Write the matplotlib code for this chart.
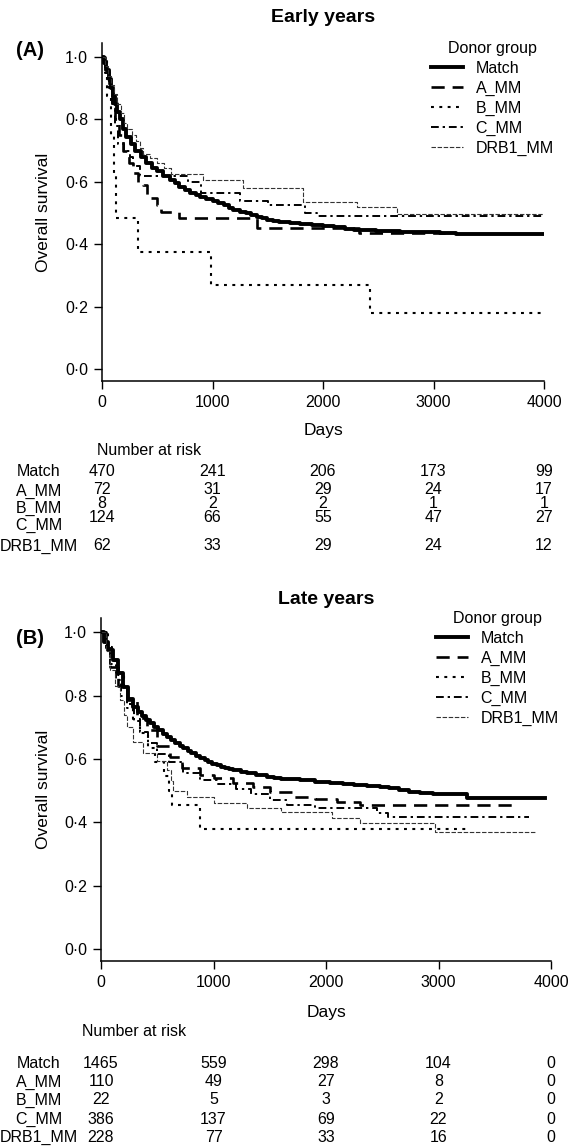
import matplotlib
matplotlib.use("Agg")
import matplotlib.pyplot as plt
from matplotlib.lines import Line2D
import matplotlib.transforms as mtransforms

plt.rcParams['font.family'] = ['Liberation Sans', 'DejaVu Sans']

W, H = 577, 1147
groups = ["Match", "A_MM", "B_MM", "C_MM", "DRB1_MM"]
risk_times = [0, 1000, 2000, 3000, 4000]

# ---------------- Early years ----------------
early_match_t = [0, 20, 40, 60, 80, 100, 120, 140, 160, 190, 220, 260, 300, 350, 400, 450, 500, 550, 615,
                 660, 700, 750, 800, 850, 887, 940, 1000, 1050, 1100, 1150, 1186, 1250, 1300, 1350, 1400,
                 1450, 1490, 1550, 1600, 1700, 1790, 1900, 2000, 2100, 2200, 2280, 2362, 2480, 2600, 2700,
                 2800, 2930, 3058, 3200, 4000]
early_match_s = [1.0, 0.98, 0.96, 0.93, 0.90, 0.875, 0.85, 0.825, 0.80, 0.77, 0.745, 0.72, 0.70, 0.68, 0.66,
                 0.645, 0.635, 0.62, 0.605, 0.595, 0.585, 0.575, 0.565, 0.558, 0.551, 0.545, 0.54, 0.533,
                 0.525, 0.517, 0.51, 0.505, 0.50, 0.494, 0.488, 0.483, 0.478, 0.475, 0.472, 0.468, 0.465,
                 0.461, 0.458, 0.454, 0.45, 0.447, 0.445, 0.443, 0.442, 0.441, 0.44, 0.438, 0.436, 0.432,
                 0.432]
early_a_t = [0, 30, 60, 90, 115, 150, 190, 240, 280, 330, 371, 407, 500, 530, 700, 1400, 2330, 3100]
early_a_s = [1.0, 0.96, 0.90, 0.85, 0.80, 0.75, 0.70, 0.66, 0.63, 0.60, 0.59, 0.548, 0.525, 0.503, 0.484,
             0.452, 0.436, 0.436]
early_b_t = [0, 45, 80, 105, 130, 327, 983, 2425, 3980]
early_b_s = [1.0, 0.875, 0.75, 0.625, 0.485, 0.375, 0.27, 0.18, 0.18]
early_c_t = [0, 30, 60, 90, 120, 145, 200, 250, 280, 344, 780, 900, 1250, 1500, 1840, 1950, 4000]
early_c_s = [1.0, 0.95, 0.90, 0.85, 0.78, 0.72, 0.70, 0.68, 0.65, 0.62, 0.60, 0.565, 0.54, 0.525, 0.50,
             0.49, 0.49]
early_d_t = [0, 25, 50, 80, 110, 140, 170, 200, 230, 270, 310, 340, 370, 430, 500, 560, 620, 915, 1280,
             1820, 2310, 2670, 4000]
early_d_s = [1.0, 0.97, 0.94, 0.91, 0.88, 0.85, 0.82, 0.79, 0.77, 0.75, 0.73, 0.71, 0.69, 0.675, 0.66,
             0.645, 0.625, 0.605, 0.58, 0.535, 0.52, 0.497, 0.497]
early_risk_match = [470, 241, 206, 173, 99]
early_risk_a = [72, 31, 29, 24, 17]
early_risk_b = [8, 2, 2, 1, 1]
early_risk_c = [124, 66, 55, 47, 27]
early_risk_d = [62, 33, 29, 24, 12]

# ---------------- Late years ----------------
late_match_t = [0, 30, 60, 107, 150, 196, 240, 285, 330, 360, 400, 436, 470, 510, 550, 587, 620, 660, 700,
                729, 770, 800, 840, 880, 920, 950, 990, 1031, 1070, 1100, 1140, 1173, 1240, 1300, 1380, 1476,
                1540, 1600, 1680, 1769, 1900, 2036, 2150, 2250, 2360, 2480, 2560, 2650, 2740, 2836, 2950,
                3100, 3253, 3947]
late_match_s = [1.0, 0.97, 0.945, 0.912, 0.87, 0.826, 0.79, 0.763, 0.748, 0.735, 0.723, 0.713, 0.70, 0.69,
                0.68, 0.669, 0.66, 0.65, 0.641, 0.634, 0.626, 0.618, 0.61, 0.602, 0.596, 0.59, 0.585, 0.58,
                0.576, 0.572, 0.568, 0.565, 0.56, 0.555, 0.549, 0.543, 0.54, 0.538, 0.536, 0.533, 0.528,
                0.524, 0.521, 0.518, 0.515, 0.511, 0.507, 0.502, 0.497, 0.492, 0.49, 0.488, 0.476, 0.476]
late_a_t = [0, 40, 80, 150, 230, 320, 410, 500, 610, 720, 880, 1000, 1170, 1350, 1500, 1700, 1900, 2100,
            2300, 3700]
late_a_s = [1.0, 0.95, 0.89, 0.83, 0.785, 0.73, 0.69, 0.64, 0.605, 0.57, 0.55, 0.54, 0.525, 0.51, 0.495,
            0.48, 0.475, 0.465, 0.455, 0.455]
late_b_t = [0, 60, 100, 150, 200, 240, 280, 350, 420, 480, 560, 600, 630, 880, 3250]
late_b_s = [1.0, 0.955, 0.909, 0.864, 0.818, 0.773, 0.727, 0.682, 0.636, 0.591, 0.545, 0.5, 0.454, 0.378,
            0.378]
late_c_t = [0, 40, 80, 130, 180, 230, 290, 350, 420, 500, 600, 730, 880, 1030, 1200, 1330, 1500, 1650,
            1900, 2450, 2550, 3800]
late_c_s = [1.0, 0.95, 0.90, 0.85, 0.80, 0.76, 0.72, 0.685, 0.65, 0.615, 0.59, 0.555, 0.535, 0.52, 0.505,
            0.49, 0.47, 0.455, 0.445, 0.43, 0.416, 0.416]
late_d_t = [0, 40, 80, 120, 170, 200, 230, 285, 370, 500, 590, 620, 640, 760, 1000, 1300, 1600, 2050, 2300,
            2970, 3870]
late_d_s = [1.0, 0.94, 0.88, 0.83, 0.785, 0.74, 0.70, 0.655, 0.62, 0.595, 0.565, 0.53, 0.50, 0.48, 0.46,
            0.445, 0.432, 0.413, 0.397, 0.369, 0.369]
late_risk_match = [1465, 559, 298, 104, 0]
late_risk_a = [110, 49, 27, 8, 0]
late_risk_b = [22, 5, 3, 2, 0]
late_risk_c = [386, 137, 69, 22, 0]
late_risk_d = [228, 77, 33, 16, 0]

y_ticks = [0.0, 0.2, 0.4, 0.6, 0.8, 1.0]
x_ticks = [0, 1000, 2000, 3000, 4000]

styles = {
    "Match": dict(color="black", lw=2.8, linestyle="-"),
    "A_MM": dict(color="black", lw=1.9, linestyle=(0, (5, 3))),
    "B_MM": dict(color="black", lw=1.5, linestyle=(0, (1.4, 2.6))),
    "C_MM": dict(color="black", lw=1.4, linestyle=(0, (4, 2, 1.2, 2))),
    "DRB1_MM": dict(color="#333333", lw=0.8, linestyle=(0, (4, 1.5))),
}

fig = plt.figure(figsize=(W / 100, H / 100), dpi=100)


def px(x, y):
    return x / W, 1 - y / H


def ftext(x, y, s, **kw):
    fx, fy = px(x, y)
    fig.text(fx, fy, s, **kw)


def make_panel(rect, curves, risks, title, letter, title_y, letter_y, days_y, nar_x, nar_y,
               lab_ys, num_ys, leg_xy, ylab_x):
    ax = fig.add_axes(rect)
    for g, (t, s) in zip(groups, curves):
        ax.step(t, s, where="post", **styles[g])
    ax.set_xlim(0, 4000)
    ax.set_ylim(-0.038, 1.045)
    ax.set_xticks(x_ticks)
    ax.set_yticks(y_ticks)
    ax.set_yticklabels([f"{v:.1f}".replace(".", "\u00b7") for v in y_ticks])
    for sp in ["top", "right"]:
        ax.spines[sp].set_visible(False)
    for sp in ["left", "bottom"]:
        ax.spines[sp].set_linewidth(1.1)
    ax.tick_params(direction="out", length=6, width=1.0, labelsize=11.5, pad=4)
    bb = ax.get_position()
    cx = (bb.x0 + bb.x1) / 2 * W
    ftext(cx, title_y, title, ha="center", va="center", fontsize=14, fontweight="bold")
    ftext(30, letter_y, letter, ha="center", va="center", fontsize=14.5, fontweight="bold")
    ylab_y = (1 - (bb.y0 + bb.y1) / 2) * H
    ftext(ylab_x, ylab_y, "Overall survival", ha="center", va="center", rotation=90, fontsize=12.5)
    ftext(cx, days_y, "Days", ha="center", va="center", fontsize=12.5)
    ftext(nar_x, nar_y, "Number at risk", ha="left", va="center", fontsize=11.5)
    trans = mtransforms.blended_transform_factory(ax.transData, fig.transFigure)
    for g, vals, ly, ny in zip(groups, risks, lab_ys, num_ys):
        ftext(39, ly, g, ha="center", va="center", fontsize=11.5)
        for t, v in zip(risk_times, vals):
            ax.text(t, 1 - ny / H, str(v), transform=trans, ha="center", va="center",
                    fontsize=11.5, clip_on=False)
    handles = [Line2D([], [], **styles[g]) for g in groups]
    ax.legend(handles, groups, title="Donor group", loc="upper left",
              bbox_to_anchor=px(*leg_xy), bbox_transform=fig.transFigure,
              frameon=False, fontsize=11.5, title_fontsize=11.5, handlelength=2.0,
              handletextpad=0.8, labelspacing=0.3, borderpad=0, borderaxespad=0)
    return ax


def rect_from_px(left, right, top, bottom):
    return [left / W, 1 - bottom / H, (right - left) / W, (bottom - top) / H]


make_panel(rect_from_px(102, 544, 43, 381),
           [(early_match_t, early_match_s), (early_a_t, early_a_s), (early_b_t, early_b_s),
            (early_c_t, early_c_s), (early_d_t, early_d_s)],
           [early_risk_match, early_risk_a, early_risk_b, early_risk_c, early_risk_d],
           "Early years", "(A)", 18, 50, 430, 97, 451,
           [472, 491, 508, 525, 546], [472, 489, 504, 518, 546], (431, 41), 43)

make_panel(rect_from_px(101, 551, 618, 961),
           [(late_match_t, late_match_s), (late_a_t, late_a_s), (late_b_t, late_b_s),
            (late_c_t, late_c_s), (late_d_t, late_d_s)],
           [late_risk_match, late_risk_a, late_risk_b, late_risk_c, late_risk_d],
           "Late years", "(B)", 600, 638, 1012, 82, 1031,
           [1063, 1082, 1100, 1119, 1137], [1063, 1082, 1100, 1119, 1137], (436, 611), 43)

fig.savefig("out.png", dpi=100)
